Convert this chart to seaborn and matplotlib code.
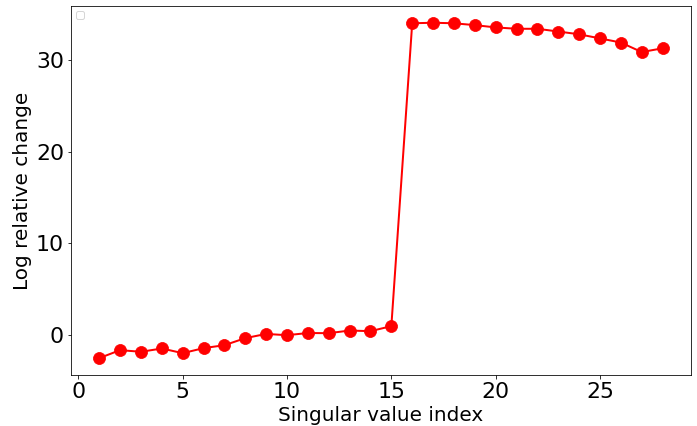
import numpy as np
import pandas as pd
import matplotlib
matplotlib.use('Agg')
import matplotlib.pyplot as plt
import seaborn as sns

# Log relative change per singular value index
index = list(range(1, 29))
log_change = [-2.54, -1.67, -1.85, -1.49, -2.0, -1.45, -1.13, -0.36, 0.1, -0.04,
              0.2, 0.18, 0.47, 0.4, 0.95,
              34.0, 34.06, 34.0, 33.8, 33.55, 33.4, 33.4, 33.1, 32.8, 32.35,
              31.9, 30.86, 31.27]

df = pd.DataFrame({'index': index, 'log_change': log_change})

sns.set_style('ticks')
plt.rcParams['font.family'] = ['DejaVu Sans']
plt.rcParams['axes.edgecolor'] = 'black'
plt.rcParams['text.color'] = 'black'
plt.rcParams['axes.labelcolor'] = 'black'

fig = plt.figure(figsize=(697 / 72, 426 / 72), dpi=72)
ax = fig.add_axes([0.102, 0.120, 0.889, 0.866])
sns.lineplot(data=df, x='index', y='log_change', color='red', marker='o',
             markersize=12, markeredgecolor='red', linewidth=2, ax=ax)

ax.set_xlabel('Singular value index', fontsize=20)
ax.set_ylabel('Log relative change', fontsize=20)
ax.tick_params(labelsize=22, colors='black')
ax.set_xticks([0, 5, 10, 15, 20, 25])
ax.set_yticks([0, 10, 20, 30])
ax.legend(loc='upper left')

fig.savefig('out.png', dpi=72)
